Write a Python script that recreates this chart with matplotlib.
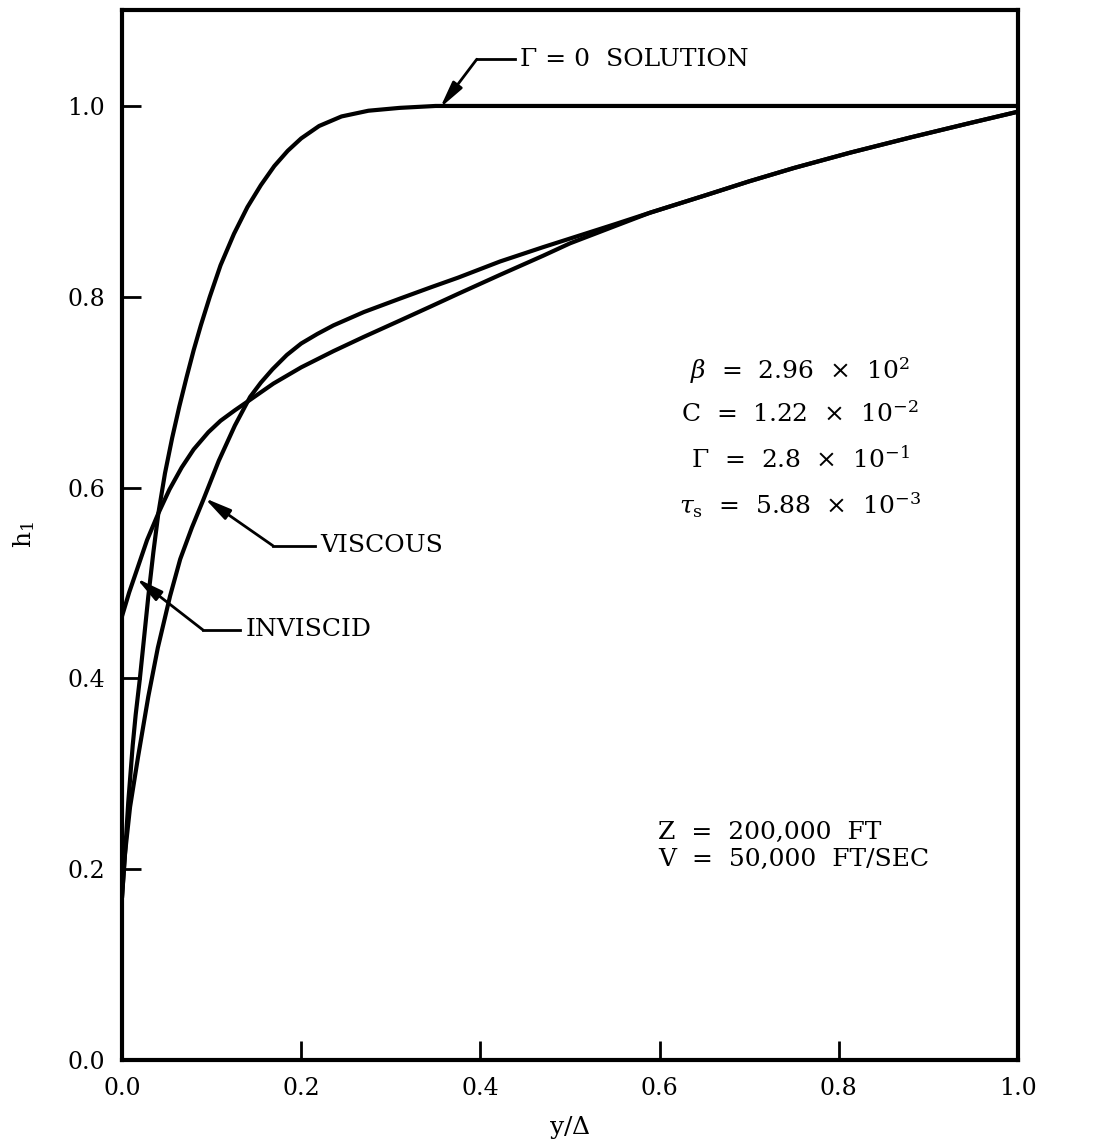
import matplotlib
matplotlib.use("Agg")
import matplotlib.pyplot as plt

plt.rcParams['font.family'] = ['DejaVu Serif']
plt.rcParams['mathtext.fontset'] = 'dejavuserif'

# curves
gamma0_x = [0.0, 0.003, 0.007, 0.012, 0.0153, 0.020, 0.0294, 0.035, 0.0406, 0.048, 0.056,
            0.064, 0.0722, 0.08, 0.088, 0.098, 0.11, 0.125, 0.14, 0.155, 0.17, 0.185,
            0.2, 0.22, 0.245, 0.275, 0.31, 0.35, 1.0]
gamma0_y = [0.17, 0.21, 0.27, 0.33, 0.362, 0.40, 0.486, 0.532, 0.573, 0.615, 0.652,
            0.685, 0.716, 0.744, 0.770, 0.800, 0.833, 0.866, 0.894, 0.917, 0.937, 0.953,
            0.966, 0.979, 0.989, 0.995, 0.998, 1.0, 1.0]

inv_x = [0.0, 0.008, 0.0164, 0.028, 0.0406, 0.053, 0.0666, 0.08, 0.0964, 0.11, 0.126,
         0.143, 0.169, 0.2, 0.236, 0.27, 0.31, 0.345, 0.375, 0.422, 0.47, 0.5, 0.55,
         0.589, 0.65, 0.70, 0.75, 0.8125, 0.88, 0.946, 1.0]
inv_y = [0.465, 0.49, 0.513, 0.545, 0.573, 0.598, 0.621, 0.640, 0.658, 0.670, 0.681,
         0.692, 0.709, 0.726, 0.743, 0.758, 0.775, 0.790, 0.803, 0.823, 0.843, 0.856, 0.874,
         0.888, 0.906, 0.921, 0.935, 0.951, 0.967, 0.982, 0.994]

visc_x = [0.0, 0.003, 0.009, 0.018, 0.0294, 0.04, 0.0536, 0.065, 0.078, 0.0907, 0.108,
          0.126, 0.143, 0.155, 0.168, 0.184, 0.2, 0.218, 0.236, 0.27, 0.31, 0.345, 0.375,
          0.422, 0.47, 0.5, 0.55, 0.589, 0.65, 0.70, 0.75, 0.8125, 0.88, 0.946, 1.0]
visc_y = [0.17, 0.213, 0.265, 0.318, 0.381, 0.432, 0.486, 0.525, 0.558, 0.587, 0.628,
          0.665, 0.695, 0.71, 0.724, 0.739, 0.751, 0.761, 0.77, 0.784, 0.798, 0.81, 0.82,
          0.837, 0.852, 0.861, 0.876, 0.888, 0.906, 0.921, 0.935, 0.951, 0.967, 0.982, 0.994]

xticks = [0.0, 0.2, 0.4, 0.6, 0.8, 1.0]
yticks = [0.0, 0.2, 0.4, 0.6, 0.8, 1.0]
xtick_labels = ["0.0", "0.2", "0.4", "0.6", "0.8", "1.0"]
ytick_labels = ["0.0", "0.2", "0.4", "0.6", "0.8", "1.0"]

params = [r"$\beta$  =  2.96  $\times$  10$^{2}$",
          r"C  =  1.22  $\times$  10$^{-2}$",
          r"$\Gamma$  =  2.8  $\times$  10$^{-1}$",
          r"$\tau_{\rm s}$  =  5.88  $\times$  10$^{-3}$"]
conditions = "Z  =  200,000  FT\nV  =  50,000  FT/SEC"

fig = plt.figure(figsize=(10.93, 11.48), dpi=100)
ax = fig.add_axes([0.1116, 0.0767, 0.8198, 0.9146])
ax.set_xlim(0, 1.0)
ax.set_ylim(0, 1.1006)

lw = 3.0
for xs, ys in [(gamma0_x, gamma0_y), (inv_x, inv_y), (visc_x, visc_y)]:
    ax.plot(xs, ys, color='k', lw=lw, solid_capstyle='round', solid_joinstyle='round')

for s in ax.spines.values():
    s.set_linewidth(3)

ax.set_xticks(xticks)
ax.set_xticklabels(xtick_labels)
ax.set_yticks(yticks)
ax.set_yticklabels(ytick_labels)
ax.tick_params(direction='in', length=14, width=2, labelsize=17, pad=12,
               top=False, right=False)
ax.set_xlabel(r"y/$\Delta$", fontsize=18, labelpad=10)
ax.set_ylabel(r"h$_1$", fontsize=18, labelpad=22)

aprops = dict(arrowstyle='-|>,head_length=1.6,head_width=0.35', lw=2, color='k',
              shrinkA=0, shrinkB=0)

def leader(tip, elbow, xend, label):
    ax.annotate('', xy=tip, xytext=elbow, arrowprops=aprops)
    ax.plot([elbow[0], xend], [elbow[1], elbow[1]], color='k', lw=2)
    ax.text(xend + 0.006, elbow[1], label, fontsize=18, va='center', ha='left')

leader((0.355, 0.998), (0.396, 1.049), 0.4386, "\u0393 = 0  SOLUTION")
leader((0.092, 0.589), (0.1685, 0.539), 0.215, "VISCOUS")
leader((0.016, 0.505), (0.0904, 0.4507), 0.132, "INVISCID")

param_y = [0.723, 0.677, 0.630, 0.582]
for txt, yy in zip(params, param_y):
    ax.text(0.757, yy, txt, fontsize=18, ha='center', va='center')

ax.text(0.598, 0.224, conditions, fontsize=18, ha='left', va='center', linespacing=1.2)

fig.savefig("out.png", dpi=100)
